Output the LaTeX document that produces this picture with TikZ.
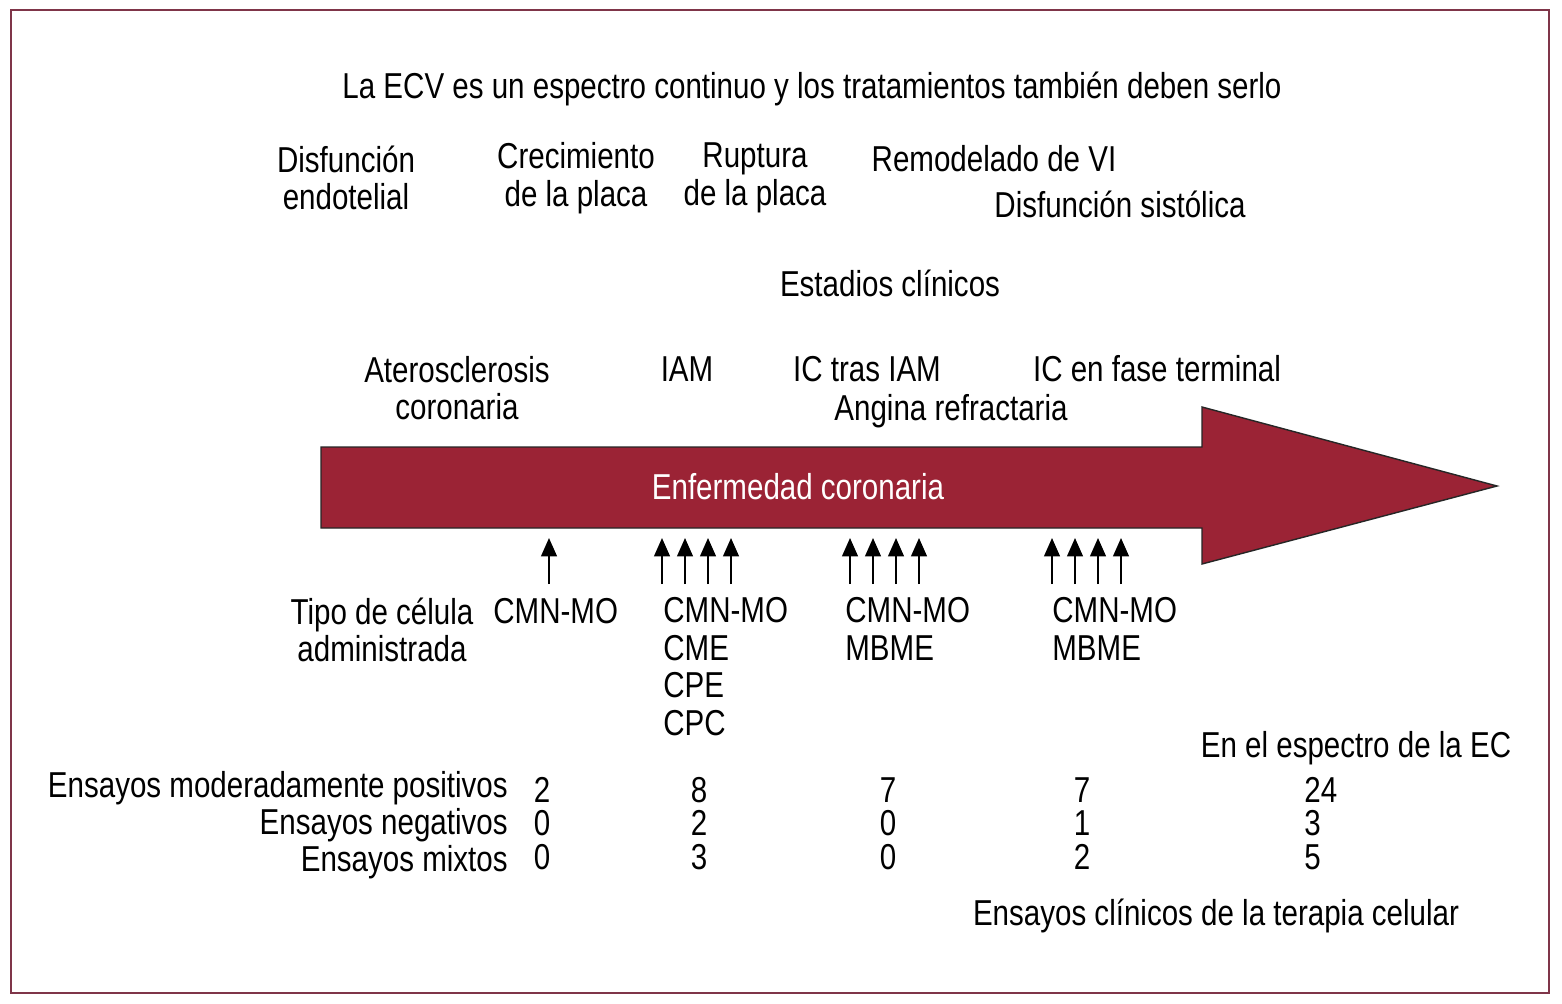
\documentclass[tikz,border=0pt]{standalone}
\usepackage{fontspec}
\setmainfont[FakeStretch=0.82]{Liberation Sans}
\usetikzlibrary{arrows.meta}
\definecolor{ecred}{HTML}{9B2335}
\definecolor{ecframe}{HTML}{7F3549}
\begin{document}
\begin{tikzpicture}[x=0.02cm, y=-0.02cm,
    lbl/.style={font=\fontsize{20.5}{21.4}\selectfont, inner sep=0, align=center, yshift=-0.6pt},
    lblL/.style={lbl, align=left, anchor=west},
    num/.style={font=\fontsize{20.5}{21.4}\selectfont, inner sep=0},
    celarrow/.style={-{Triangle[length=10.5pt,width=9pt]}, line width=1.1pt}]
    \useasboundingbox (0,0) rectangle (1562,1004);
    \fill[white] (0,0) rectangle (1562,1004);
    \draw[ecframe, line width=1.3pt] (11,10) rectangle (1549,993);
    % titulo y estadios
    \node[lbl] (titulo) at (812,88) {La ECV es un espectro continuo y los tratamientos también deben serlo};
    \node[lbl] (disf) at (346,177) {Disfunción\\endotelial};
    \node[lbl] (crec) at (576,177) {Crecimiento\\de la placa};
    \node[lbl] (rupt) at (755,177) {Ruptura\\de la placa};
    \node[lbl] (remod) at (994,158) {Remodelado de VI};
    \node[lbl] (sist) at (1120,203) {Disfunción sistólica};
    \node[lbl] (estad) at (890,282) {Estadios clínicos};
    \node[lbl] (ateros) at (457,387) {Aterosclerosis\\coronaria};
    \node[lbl] (iam) at (687,368) {IAM};
    \node[lbl] (ictras) at (867,368) {IC tras IAM};
    \node[lbl] (icfase) at (1157,368) {IC en fase terminal};
    \node[lbl] (angina) at (951,410) {Angina refractaria};
    % flecha principal
    \draw[fill=ecred, draw=black!85, line width=0.8pt]
        (321,447) -- (1202,447) -- (1202,407) -- (1497,486) -- (1202,564) -- (1202,528) -- (321,528) -- cycle;
    \node[lbl, text=white] (enf) at (798,486) {Enfermedad coronaria};
    % flechas de celulas
    \foreach \x in {549,662,685,708,731,850,873,896,919,1052,1075,1098,1121}
        \draw[celarrow] (\x,584) coordinate (base\x) -- (\x,538) coordinate (tip\x);
    \node[lbl] (tipo) at (382,629) {Tipo de célula\\administrada};
    \node[lblL] (cel1) at (493,610) {CMN-MO};
    \node[lblL, anchor=north west] (cel2) at (663,596) {CMN-MO\\CME\\CPE\\CPC};
    \node[lblL, anchor=north west] (cel3) at (845,596) {CMN-MO\\MBME};
    \node[lblL, anchor=north west] (cel4) at (1052,596) {CMN-MO\\MBME};
    % ensayos
    \node[lbl] (espectro) at (1356,747) {En el espectro de la EC};
    \node[lbl, anchor=east] (pos) at (508,787) {Ensayos moderadamente positivos};
    \node[lbl, anchor=east] (neg) at (508,824) {Ensayos negativos};
    \node[lbl, anchor=east] (mix) at (508,861) {Ensayos mixtos};
    \foreach \x/\a/\b/\c in {542/2/0/0, 699/8/2/3, 888/7/0/0, 1082/7/1/2}{
        \node[num] at (\x,790) {\a};
        \node[num] at (\x,823) {\b};
        \node[num] at (\x,857) {\c};
    }
    \node[num, anchor=west] (tot1) at (1304,790) {24};
    \node[num, anchor=west] (tot2) at (1304,823) {3};
    \node[num, anchor=west] (tot3) at (1304,857) {5};
    \node[lbl] (terapia) at (1216,915) {Ensayos clínicos de la terapia celular};
\end{tikzpicture}
\end{document}
